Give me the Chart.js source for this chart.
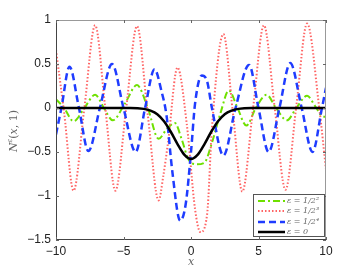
<!DOCTYPE html>
<html>
<head>
<meta charset="utf-8">
<script src="https://cdn.jsdelivr.net/npm/chart.js@4.4.1/dist/chart.umd.min.js"></script>
<style>
  html, body { margin: 0; padding: 0; background: #fff; }
  #chart { display: block; }
</style>
</head>
<body>
<canvas id="chart" width="360" height="271"></canvas>
<script>
// 刻度
const xTicks = [-10, -5, 0, 5, 10];
const yTicks = [1, 0.5, 0, -0.5, -1, -1.5];

// eps = 1/2^2 (綠)
const greenX = [-10, -9.4, -8.7, -7.9, -7.1, -6.45, -5.8, -4.9, -4.0, -3.2, -2.4, -1.8, -1.2, -0.7, -0.2, 0.4, 1.0, 1.5, 2.2, 2.8, 3.4, 4.1, 4.8, 5.6, 6.3, 7.1, 7.8, 8.6, 9.2, 9.8, 10];
const greenY = [0.1, 0.0, -0.15, 0.0, 0.15, 0.0, -0.14, 0.05, 0.26, 0.0, -0.35, -0.24, -0.17, -0.35, -0.58, -0.64, -0.62, -0.42, -0.05, 0.2, 0.02, -0.2, 0.0, 0.15, 0.0, -0.14, 0.0, 0.14, 0.02, -0.1, -0.1];

// eps = 1/2^3 (紅)
const redX = [-10, -9.4, -8.7, -7.9, -7.1, -6.35, -5.6, -4.8, -4.0, -3.2, -2.4, -2.05, -1.7, -1.0, -0.3, 0.3, 0.7, 1.2, 1.55, 2.4, 3.1, 3.8, 4.6, 5.4, 6.2, 7.0, 7.8, 8.6, 9.5, 10];
const redY = [0.66, -0.05, -0.94, 0.0, 0.94, 0.0, -0.94, 0.0, 0.93, -0.08, -1.05, -0.77, -0.39, 0.46, -0.2, -1.15, -1.41, -1.2, -0.23, 0.84, -0.05, -0.95, 0.0, 0.94, 0.0, -0.93, 0.02, 0.96, 0.0, -0.7];

// eps = 1/2^4 (藍)
const blueX = [-10, -9.6, -9.0, -8.3, -7.6, -6.75, -5.85, -5.0, -4.1, -3.4, -2.7, -2.2, -1.8, -1.4, -0.8, -0.4, 0.0, 0.3, 0.8, 1.2, 1.55, 2.4, 3.3, 4.3, 5.0, 5.75, 6.55, 7.35, 8.2, 9.0, 9.7, 10];
const blueY = [-0.3, 0.0, 0.47, 0.0, -0.49, 0.0, 0.5, 0.0, -0.5, 0.0, 0.44, 0.2, -0.1, -0.7, -1.28, -1.1, -0.5, 0.05, 0.37, 0.3, 0.0, -0.54, 0.0, 0.49, 0.0, -0.5, 0.0, 0.51, 0.0, -0.5, 0.0, 0.23];

// eps = 0 (黑)
const blackX = [-10, -4.5, -3.5, -3, -2.5, -2, -1.5, -1, -0.5, 0, 0.5, 1, 1.5, 2, 2.5, 3, 3.5, 4.5, 10];
const blackY = [0, 0, -0.01, -0.03, -0.07, -0.15, -0.27, -0.41, -0.53, -0.58, -0.53, -0.41, -0.27, -0.15, -0.07, -0.03, -0.01, 0, 0];

const labels = ['ε = 1/2²', 'ε = 1/2³', 'ε = 1/2⁴', 'ε = 0'];

function toPoints(xs, ys) {
  return xs.map((x, i) => ({ x: x, y: ys[i] }));
}

// 外框、內刻度、軸標題和圖例
const framePlugin = {
  id: 'frame',
  afterDraw(chart) {
    const ctx = chart.ctx;
    const a = chart.chartArea;
    const sx = chart.scales.x, sy = chart.scales.y;
    ctx.save();
    ctx.lineWidth = 1;
    ctx.strokeStyle = '#999';
    ctx.beginPath();
    ctx.moveTo(a.left, a.top + 0.5); ctx.lineTo(a.right - 0.5, a.top + 0.5); ctx.lineTo(a.right - 0.5, a.bottom);
    ctx.stroke();
    ctx.strokeStyle = '#444';
    ctx.beginPath();
    ctx.moveTo(a.left + 0.5, a.top); ctx.lineTo(a.left + 0.5, a.bottom - 0.5); ctx.lineTo(a.right, a.bottom - 0.5);
    ctx.stroke();

    ctx.strokeStyle = '#666';
    ctx.beginPath();
    xTicks.forEach(v => {
      const px = Math.round(sx.getPixelForValue(v)) + 0.5;
      ctx.moveTo(px, a.bottom); ctx.lineTo(px, a.bottom - 3);
      ctx.moveTo(px, a.top); ctx.lineTo(px, a.top + 3);
    });
    yTicks.forEach(v => {
      const py = Math.round(sy.getPixelForValue(v)) + 0.5;
      ctx.moveTo(a.left, py); ctx.lineTo(a.left + 3, py);
      ctx.moveTo(a.right, py); ctx.lineTo(a.right - 3, py);
    });
    ctx.stroke();

    // x 軸標題
    ctx.fillStyle = '#666';
    ctx.font = 'italic 11px "DejaVu Serif", serif';
    ctx.textAlign = 'center';
    ctx.textBaseline = 'middle';
    ctx.fillText('x', (a.left + a.right) / 2, 262);

    // y 軸標題 N^ε(x, 1)
    ctx.save();
    ctx.translate(14, 131);
    ctx.rotate(-Math.PI / 2);
    ctx.textAlign = 'left';
    ctx.textBaseline = 'middle';
    const f1 = 'italic 11px "DejaVu Serif", serif';
    const f2 = 'italic 7px "DejaVu Serif", serif';
    const f3 = '11px "DejaVu Serif", serif';
    const parts = [['N', f1, 0], ['ε', f2, -4], ['(', f3, 0], ['x', f1, 0], [', 1)', f3, 0]];
    let w = 0;
    parts.forEach(p => { ctx.font = p[1]; w += ctx.measureText(p[0]).width; });
    let cx = -w / 2;
    parts.forEach(p => {
      ctx.font = p[1];
      ctx.fillText(p[0], cx, p[2]);
      cx += ctx.measureText(p[0]).width;
    });
    ctx.restore();

    // 圖例
    const lx = 253, ly = 194, lw = 71, lh = 42;
    ctx.fillStyle = '#fff';
    ctx.fillRect(lx, ly, lw, lh);
    ctx.strokeStyle = '#555';
    ctx.lineWidth = 1;
    ctx.strokeRect(lx + 0.5, ly + 0.5, lw, lh);
    const rows = [201, 211, 222, 232];
    chart.data.datasets.forEach((ds, i) => {
      ctx.save();
      ctx.strokeStyle = ds.borderColor;
      ctx.lineWidth = ds.borderWidth;
      ctx.setLineDash(ds.borderDash || []);
      ctx.beginPath();
      ctx.moveTo(258, rows[i]);
      ctx.lineTo(285, rows[i]);
      ctx.stroke();
      ctx.restore();
      ctx.fillStyle = '#666';
      ctx.font = 'italic 8px "DejaVu Serif", serif';
      ctx.textAlign = 'left';
      ctx.textBaseline = 'middle';
      ctx.fillText(ds.label, 287, rows[i]);
    });
    ctx.restore();
  }
};

new Chart(document.getElementById('chart'), {
  type: 'line',
  data: {
    datasets: [
      {
        label: labels[0], data: toPoints(greenX, greenY),
        borderColor: '#6ee000', borderWidth: 2, borderDash: [7, 3, 2, 3], order: 3
      },
      {
        label: labels[1], data: toPoints(redX, redY),
        borderColor: '#ff6464', borderWidth: 2, borderDash: [1.5, 2], order: 2
      },
      {
        label: labels[2], data: toPoints(blueX, blueY),
        borderColor: '#1f3cff', borderWidth: 2.5, borderDash: [7, 4], order: 1
      },
      {
        label: labels[3], data: toPoints(blackX, blackY),
        borderColor: '#000', borderWidth: 2.5, order: 0
      }
    ]
  },
  options: {
    responsive: false,
    animation: false,
    devicePixelRatio: 1,
    layout: { padding: { left: 0, right: 34, top: 20, bottom: 0 } },
    elements: {
      point: { radius: 0 },
      line: { cubicInterpolationMode: 'monotone', fill: false }
    },
    plugins: { legend: { display: false }, tooltip: { enabled: false } },
    scales: {
      x: {
        type: 'linear', min: -10, max: 10,
        grid: { display: false, drawTicks: false }, border: { display: false },
        afterBuildTicks: s => { s.ticks = xTicks.map(v => ({ value: v })); },
        afterFit: s => { s.height = 31; },
        ticks: {
          padding: 4, color: '#222', maxRotation: 0,
          font: { family: '"Liberation Sans", Arial, sans-serif', size: 12 },
          callback: v => String(v).replace('-', '−')
        }
      },
      y: {
        min: -1.5, max: 1,
        grid: { display: false, drawTicks: false }, border: { display: false },
        afterBuildTicks: s => { s.ticks = yTicks.map(v => ({ value: v })); },
        afterFit: s => { s.width = 56; },
        ticks: {
          padding: 5, color: '#222',
          font: { family: '"Liberation Sans", Arial, sans-serif', size: 12 },
          callback: v => String(v).replace('-', '−')
        }
      }
    }
  },
  plugins: [framePlugin]
});
</script>
</body>
</html>
